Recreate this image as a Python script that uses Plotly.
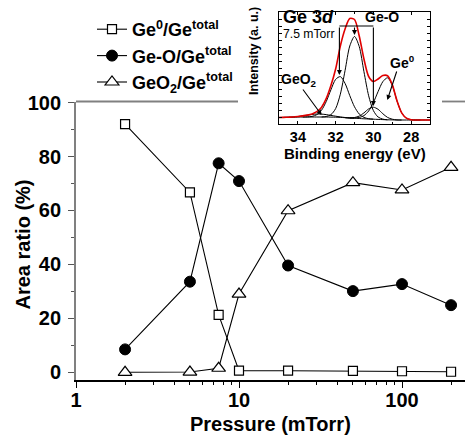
import plotly.graph_objects as go

W, H = 465, 440

# ---------------- main data ----------------
pressure = [2, 5, 7.5, 10, 20, 50, 100, 200]
ge0_ratio = [92.0, 66.7, 21.3, 0.6, 0.6, 0.5, 0.4, 0.2]
geo_ratio = [8.5, 33.6, 77.5, 70.9, 39.6, 30.1, 32.7, 24.9]
geo2_ratio = [0.0, 0.1, 1.5, 29.0, 59.9, 70.3, 67.6, 76.0]
legend_names = ["<b>Ge<sup>0</sup>/Ge<sup>total</sup></b>",
                "<b>Ge-O/Ge<sup>total</sup></b>",
                "<b>GeO<sub>2</sub>/Ge<sup>total</sup></b>"]
y_ticks = [0, 20, 40, 60, 80, 100]
x_ticks = [1, 10, 100]
x_minor = [2, 3, 4, 5, 6, 7, 8, 9, 20, 30, 40, 50, 60, 70, 80, 90, 200]

# ---------------- inset data (Ge 3d spectrum) ----------------
be_grid = [35.0, 34.75, 34.5, 34.25, 34.0, 33.75, 33.5, 33.25, 33.0, 32.75, 32.5,
           32.25, 32.0, 31.75, 31.5, 31.25, 31.0, 30.75, 30.5, 30.25, 30.0, 29.75,
           29.5, 29.25, 29.0, 28.75, 28.5, 28.25, 28.0, 27.75, 27.5, 27.25, 27.0]
background = [6.5, 6.6, 6.7, 6.8, 6.9, 7.0, 7.0, 7.0, 7.0, 7.0, 7.0, 6.9, 6.8, 6.6,
              6.3, 6.0, 5.8, 5.5, 5.2, 5.0, 4.8, 4.6, 4.4, 4.2, 4.1, 4.0, 4.0, 4.0,
              4.0, 4.0, 4.0, 4.0, 4.0]
envelope = [6.5, 6.6, 6.8, 7.0, 7.5, 8.1, 8.9, 10.1, 12.3, 16.6, 25.3, 38.5, 55.0,
            78.0, 95.0, 105.5, 104.5, 88.0, 65.0, 47.5, 42.5, 45.0, 48.5, 48.3,
            39.4, 23.3, 11.2, 5.8, 4.3, 4.0, 4.0, 4.0, 4.0]

c_geo2_x = [34.75, 34.5, 34.25, 34.0, 33.75, 33.5, 33.25, 33.0, 32.75, 32.5, 32.25,
            32.0, 31.75, 31.5, 31.25, 31.0]
c_geo2_y = [6.6, 6.8, 7.0, 7.5, 8.1, 8.8, 9.5, 10.0, 9.9, 9.4, 8.6, 7.8, 7.1, 6.5,
            6.1, 5.8]
c_ge3_x = [33.75, 33.5, 33.25, 33.0, 32.75, 32.5, 32.25, 32.0, 31.75, 31.5, 31.25,
           31.0, 30.75, 30.5, 30.25, 30.0]
c_ge3_y = [7.0, 7.1, 7.6, 9.3, 13.7, 22.4, 34.2, 44.6, 47.4, 40.6, 28.4, 17.2, 10.0,
           6.6, 5.3, 4.8]
c_ge2_x = [32.75, 32.5, 32.25, 32.0, 31.75, 31.5, 31.25, 31.0, 30.75, 30.5, 30.25,
           30.0, 29.75, 29.5, 29.25]
c_ge2_y = [7.0, 7.5, 9.3, 15.4, 29.8, 53.4, 78.0, 87.5, 77.5, 52.3, 28.2, 13.4, 7.0,
           4.9, 4.2]
c_ge1_x = [31.5, 31.25, 31.0, 30.75, 30.5, 30.25, 30.0, 29.75, 29.5, 29.25, 29.0,
           28.75, 28.5]
c_ge1_y = [6.3, 6.1, 6.5, 7.9, 11.1, 15.1, 16.8, 14.7, 10.3, 6.6, 4.8, 4.1, 4.0]
c_ge0_x = [31.25, 31.0, 30.75, 30.5, 30.25, 30.0, 29.75, 29.5, 29.25, 29.0, 28.75,
           28.5, 28.25, 28.0, 27.75, 27.5]
c_ge0_y = [6.0, 6.1, 6.5, 8.4, 13.0, 21.4, 32.4, 42.3, 46.2, 38.7, 23.2, 11.2, 5.8,
           4.3, 4.0, 4.0]
inset_xticks = [34, 32, 30, 28]

FONT = "Liberation Sans, Arial, sans-serif"


def px(x):
    return x / W


def py(y):
    return (H - y) / H


fig = go.Figure()

styles = [
    dict(symbol="square", size=9, color="white", line=dict(color="black", width=1.2)),
    dict(symbol="circle", size=11, color="black", line=dict(color="black", width=1)),
    dict(symbol="triangle-up", size=12, color="white", line=dict(color="black", width=1.2)),
]
for name, vals, st in zip(legend_names, [ge0_ratio, geo_ratio, geo2_ratio], styles):
    fig.add_trace(go.Scatter(x=pressure, y=vals, mode="lines+markers", name=name,
                             line=dict(color="black", width=1.1), marker=st,
                             xaxis="x", yaxis="y", cliponaxis=False))


def inset_line(x, y, color="black", width=1.0):
    fig.add_trace(go.Scatter(x=x, y=y, mode="lines", showlegend=False,
                             line=dict(color=color, width=width, shape="spline", smoothing=0.8),
                             xaxis="x2", yaxis="y2", hoverinfo="skip"))


inset_line(be_grid, background)
inset_line(c_geo2_x, c_geo2_y)
inset_line(c_ge3_x, c_ge3_y)
inset_line(c_ge2_x, c_ge2_y)
inset_line(c_ge1_x, c_ge1_y)
inset_line(c_ge0_x, c_ge0_y)
inset_line(be_grid, envelope, color="#e00000", width=1.6)

x_dom = [px(76), 1.0]
y_dom = [py(380), py(101.5)]

fig.update_layout(
    template="none",
    width=W, height=H,
    margin=dict(l=0, r=0, t=0, b=0, pad=0, autoexpand=False),
    paper_bgcolor="white", plot_bgcolor="white",
    font=dict(family=FONT, color="black"),
    xaxis=dict(type="log", domain=x_dom, range=[0, 2.3865], anchor="y",
               automargin=False,
               showgrid=False, zeroline=False, showline=True, linecolor="black",
               linewidth=1.5, ticks="outside", ticklen=6, tickwidth=1.3,
               tickcolor="black", tickvals=x_ticks, ticktext=[str(v) for v in x_ticks],
               tickfont=dict(size=20, family=FONT, weight="bold"),
               ticklabelstandoff=-5,
               minor=dict(tickvals=x_minor, ticks="outside", ticklen=3,
                          tickwidth=1, tickcolor="black"),
               mirror=False),
    xaxis3=dict(type="log", overlaying="x", side="top", anchor="y", automargin=False,
                range=[0, 2.3865], showgrid=False, zeroline=False, showline=False,
                ticks="outside", ticklen=3, tickwidth=1, tickcolor="#808080",
                tickvals=[2, 3, 4, 5, 6, 7, 8, 9], showticklabels=False),
    yaxis=dict(domain=y_dom, range=[-2.85, 100.4], anchor="x", automargin=False,
               showgrid=False, zeroline=False, showline=True, linecolor="#808080",
               linewidth=1.8, ticks="outside", ticklen=6, tickwidth=1.3,
               tickcolor="#555555", tickvals=y_ticks,
               tickfont=dict(size=20, family=FONT, weight="bold"),
               ticklabelstandoff=3,
               minor=dict(dtick=10, ticks="outside", ticklen=3, tickwidth=1,
                          tickcolor="#555555")),
    xaxis2=dict(domain=[px(279), px(430)], range=[35, 27], anchor="y2", automargin=False,
                showgrid=False, zeroline=False, showline=True, linecolor="black",
                linewidth=1, mirror="ticks", ticks="inside", ticklen=3,
                tickcolor="black", tickvals=inset_xticks,
                tickfont=dict(size=14.5, family=FONT, weight="bold"),
                minor=dict(dtick=1, ticks="inside", ticklen=2, tickcolor="black")),
    yaxis2=dict(domain=[py(124), py(12)], range=[0, 112], anchor="x2", automargin=False,
                showgrid=False, zeroline=False, showline=True, linecolor="black",
                linewidth=1, mirror="ticks", ticks="inside", ticklen=3,
                tickcolor="black", dtick=7, showticklabels=False),
    legend=dict(x=px(92), y=py(11), xanchor="left", yanchor="top",
                bgcolor="rgba(0,0,0,0)", borderwidth=0,
                font=dict(size=18, family=FONT), tracegroupgap=0),
    showlegend=True,
)

for x0, x1 in [(76, 238), (442, 465)]:
    fig.add_shape(type="line", xref="paper", yref="paper", x0=px(x0), x1=px(x1),
                  y0=py(101.5), y1=py(101.5), line=dict(color="#808080", width=1.8))

fig.add_shape(type="line", xref="x2", yref="y2", x0=31.8, x1=30.0, y0=98, y1=98,
              line=dict(color="black", width=1.2))


def label(text, x, y, size, angle=0):
    return dict(text=text, x=px(x), y=py(y), xref="paper", yref="paper",
                xanchor="center", yanchor="middle", textangle=angle,
                showarrow=False, font=dict(size=size))


ann = [
    label("<b>Area ratio (%)</b>", 22.5, 245, 20, -90),
    label("<b>Pressure (mTorr)</b>", 270.5, 424, 20),
    label("<b>Intensity (a. u.)</b>", 254, 51, 12.5, -90),
    label("<b>Binding energy (eV)</b>", 355, 153, 15),
    label("<b>Ge 3<i>d</i></b>", 308, 17, 18),
    label("7.5 mTorr", 308, 33.5, 12.2),
    label("<b>Ge-O</b>", 382, 17, 14),
    label("<b>Ge<sup>0</sup></b>", 402, 62, 14),
    label("<b>GeO<sub>2</sub></b>", 299, 80, 14),
]

arrows = [
    ((32.74, 9), (33.79, 36)),
    ((29.26, 24), (28.74, 54)),
    ((31.8, 49), (31.8, 98)),
    ((31.0, 89), (31.0, 98)),
    ((30.0, 18), (30.0, 98)),
]
for (tx, ty), (tx0, ty0) in arrows:
    ann.append(dict(text="", x=tx, y=ty, ax=tx0, ay=ty0, xref="x2", yref="y2",
                    axref="x2", ayref="y2", showarrow=True, arrowhead=2,
                    arrowsize=0.9, arrowwidth=1.1, arrowcolor="black", standoff=0,
                    startstandoff=0))
fig.update_layout(annotations=ann)

fig.write_html("out.html", config={"displayModeBar": False},
               post_script="document.body.style.margin='0px';document.body.style.padding='0px';")
